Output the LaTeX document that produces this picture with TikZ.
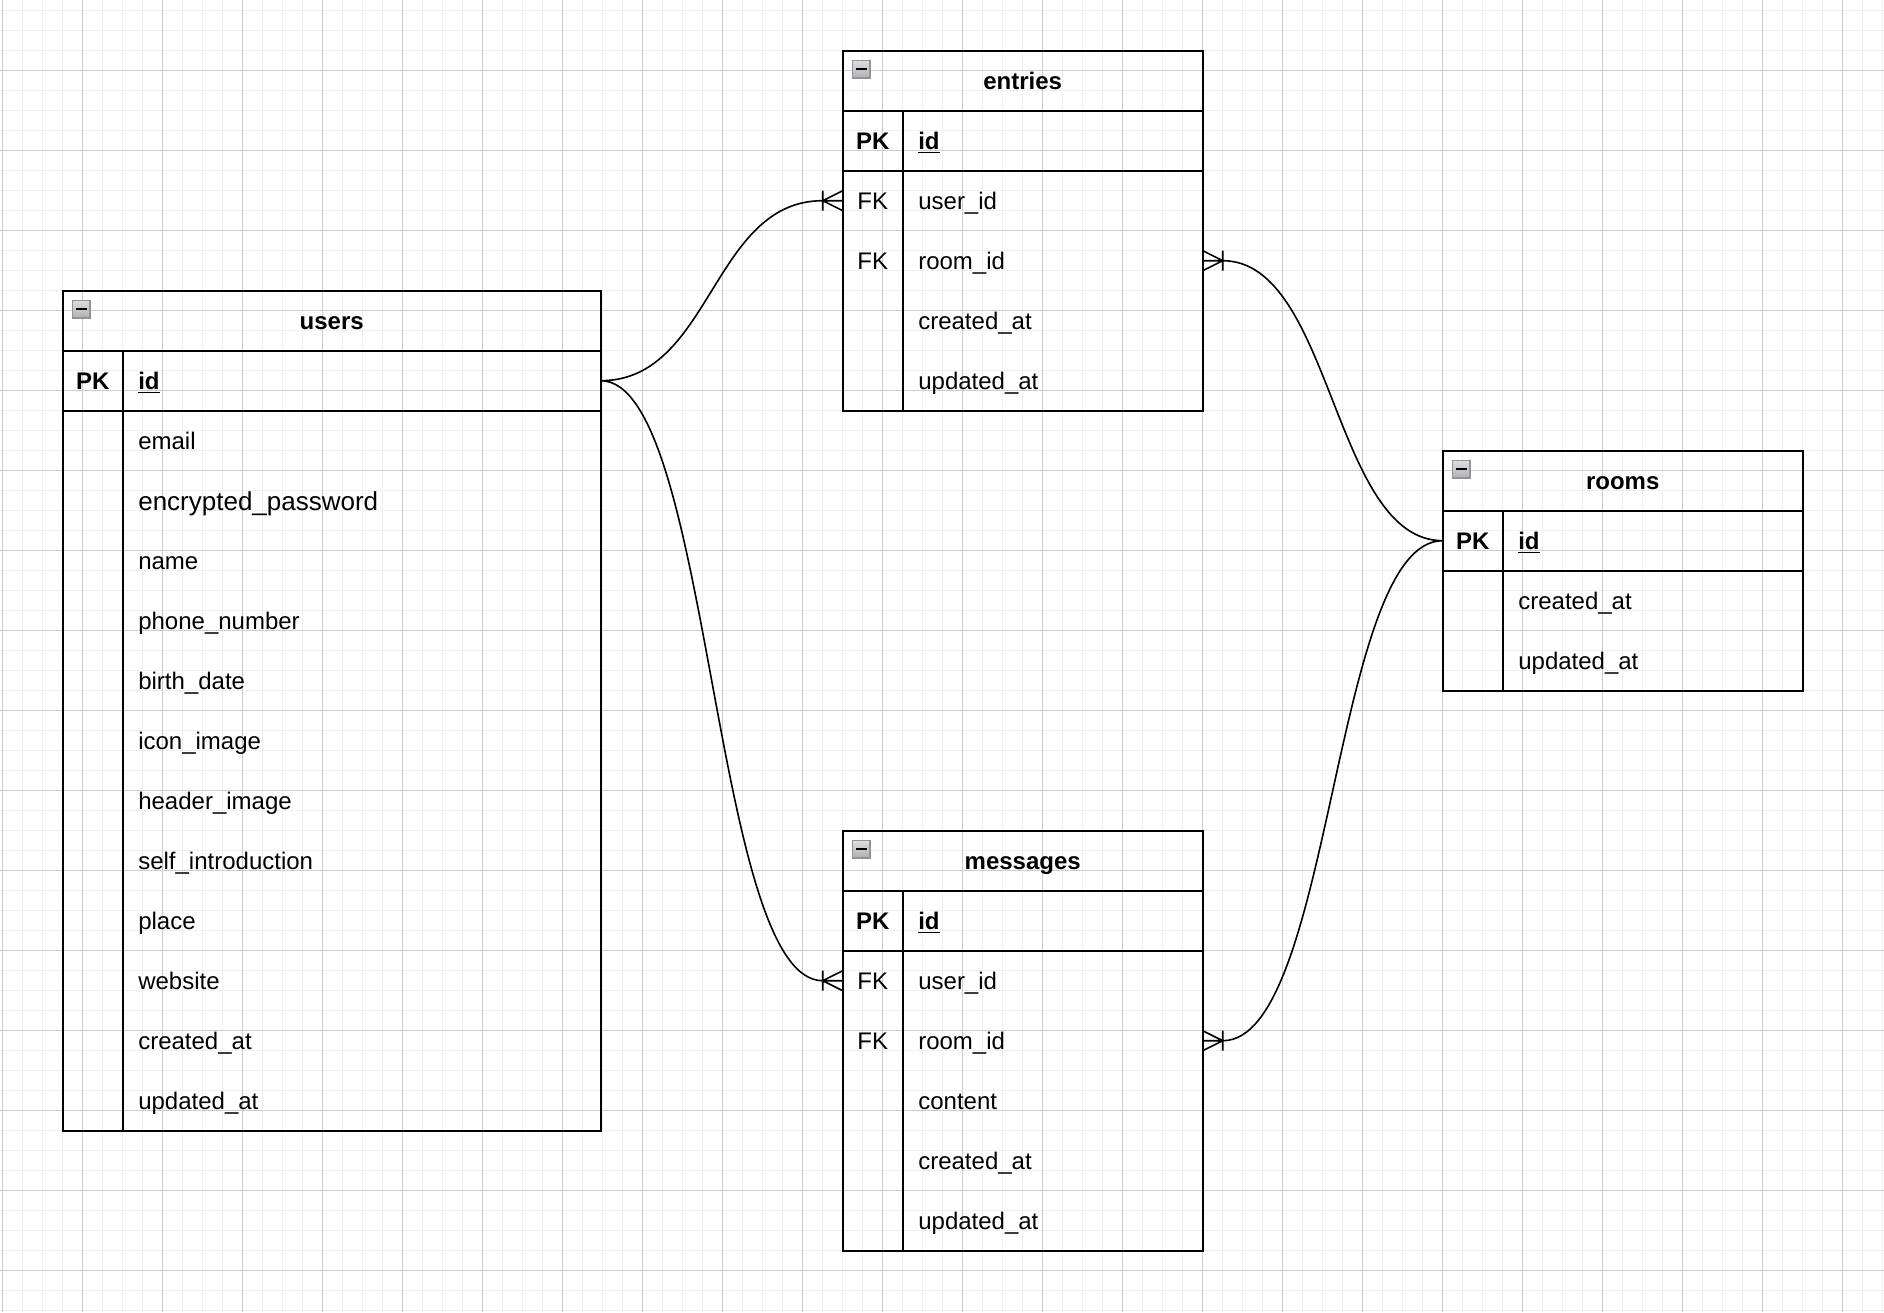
\documentclass[tikz,border=0pt]{standalone}
\usepackage{fontspec}
\setmainfont{Liberation Sans}
\begin{document}
\begin{tikzpicture}[x=1pt, y=-1pt,
	every node/.style={inner sep=0pt, outer sep=0pt, text height=10.6pt, text depth=2pt, font=\fontsize{12}{14.4}\selectfont},
	tabtitle/.style={minimum width=#1, minimum height=30pt, anchor=north west, font=\fontsize{12}{14.4}\selectfont\bfseries},
	keycell/.style={minimum width=30pt, minimum height=30pt},
	fieldcell/.style={anchor=west, minimum height=30pt, inner xsep=7.8pt, text width=#1, align=left},
	fieldcell/.default=134.4pt,
	tabframe/.style={line width=1pt},
	relation/.style={line width=0.8pt},
	minorline/.style={line width=0.75pt, black!6},
	majorline/.style={line width=0.5pt, black!20},
	foldbox/.style={minimum size=8.7pt, text height=0pt, text depth=0pt, draw=gray!85, line width=0.7pt, top color=blue!5!gray!25, bottom color=blue!5!gray!60},
	foldmark/.style={line width=1pt}]
	\fill[white] (-1.35,-5.35) rectangle (940.65,650.65);
	\useasboundingbox (-1.35,-5.35) rectangle (940.65,650.65);
	\foreach \gx in {0,10,...,940} \draw[minorline] (\gx,-5.35) -- (\gx,650.65);
	\foreach \gy in {0,10,...,650} \draw[minorline] (-1.35,\gy) -- (940.65,\gy);
	\foreach \gx in {0,40,...,920} \draw[majorline] (\gx,-5.35) -- (\gx,650.65);
	\foreach \gy in {30,70,...,630} \draw[majorline] (-1.35,\gy) -- (940.65,\gy);

	\node[tabtitle=269pt] (users) at (30,140) {users};
	\node[foldbox] (users-fold) at (39.3,149.3) {};
	\node[keycell, font=\fontsize{12}{14.4}\selectfont\bfseries] (users-pk) at (45,185) {PK};
	\node[fieldcell=223.4pt, font=\fontsize{12}{14.4}\selectfont\bfseries] (users-id) at (60,185) {\underline{id}};
	\node[fieldcell=223.4pt] (users-email) at (60,215) {email};
	\node[fieldcell=223.4pt, font=\fontsize{13}{15.6}\selectfont, text height=12pt] (users-pass) at (60,245) {encrypted\_password};
	\node[fieldcell=223.4pt] (users-name) at (60,275) {name};
	\node[fieldcell=223.4pt] (users-phone) at (60,305) {phone\_number};
	\node[fieldcell=223.4pt] (users-birth) at (60,335) {birth\_date};
	\node[fieldcell=223.4pt] (users-icon) at (60,365) {icon\_image};
	\node[fieldcell=223.4pt] (users-header) at (60,395) {header\_image};
	\node[fieldcell=223.4pt] (users-intro) at (60,425) {self\_introduction};
	\node[fieldcell=223.4pt] (users-place) at (60,455) {place};
	\node[fieldcell=223.4pt] (users-web) at (60,485) {website};
	\node[fieldcell=223.4pt] (users-created) at (60,515) {created\_at};
	\node[fieldcell=223.4pt] (users-updated) at (60,545) {updated\_at};
	\draw[tabframe] (users.north west) rectangle (users-updated.south east)
		(users.south west) -- (users.south east)
		(users-pk.south west) -- (users-id.south east)
		(users-pk.north east) -- (users-pk.north east |- users-updated.south);
	\draw[foldmark] ([xshift=-2.6pt]users-fold.center) -- ([xshift=2.6pt]users-fold.center);

	\node[tabtitle=180pt] (entries) at (420,20) {entries};
	\node[foldbox] (entries-fold) at (429.3,29.3) {};
	\node[keycell, font=\fontsize{12}{14.4}\selectfont\bfseries] (entries-pk) at (435,65) {PK};
	\node[fieldcell, font=\fontsize{12}{14.4}\selectfont\bfseries] (entries-id) at (450,65) {\underline{id}};
	\node[keycell] (entries-fk1) at (435,95) {FK};
	\node[fieldcell] (entries-user) at (450,95) {user\_id};
	\node[keycell] (entries-fk2) at (435,125) {FK};
	\node[fieldcell] (entries-room) at (450,125) {room\_id};
	\node[fieldcell] (entries-created) at (450,155) {created\_at};
	\node[fieldcell] (entries-updated) at (450,185) {updated\_at};
	\draw[tabframe] (entries.north west) rectangle (entries-updated.south east)
		(entries.south west) -- (entries.south east)
		(entries-pk.south west) -- (entries-id.south east)
		(entries-pk.north east) -- (entries-pk.north east |- entries-updated.south);
	\draw[foldmark] ([xshift=-2.6pt]entries-fold.center) -- ([xshift=2.6pt]entries-fold.center);

	\node[tabtitle=180pt] (rooms) at (720,220) {rooms};
	\node[foldbox] (rooms-fold) at (729.3,229.3) {};
	\node[keycell, font=\fontsize{12}{14.4}\selectfont\bfseries] (rooms-pk) at (735,265) {PK};
	\node[fieldcell, font=\fontsize{12}{14.4}\selectfont\bfseries] (rooms-id) at (750,265) {\underline{id}};
	\node[fieldcell] (rooms-created) at (750,295) {created\_at};
	\node[fieldcell] (rooms-updated) at (750,325) {updated\_at};
	\draw[tabframe] (rooms.north west) rectangle (rooms-updated.south east)
		(rooms.south west) -- (rooms.south east)
		(rooms-pk.south west) -- (rooms-id.south east)
		(rooms-pk.north east) -- (rooms-pk.north east |- rooms-updated.south);
	\draw[foldmark] ([xshift=-2.6pt]rooms-fold.center) -- ([xshift=2.6pt]rooms-fold.center);

	\node[tabtitle=180pt] (messages) at (420,410) {messages};
	\node[foldbox] (messages-fold) at (429.3,419.3) {};
	\node[keycell, font=\fontsize{12}{14.4}\selectfont\bfseries] (messages-pk) at (435,455) {PK};
	\node[fieldcell, font=\fontsize{12}{14.4}\selectfont\bfseries] (messages-id) at (450,455) {\underline{id}};
	\node[keycell] (messages-fk1) at (435,485) {FK};
	\node[fieldcell] (messages-user) at (450,485) {user\_id};
	\node[keycell] (messages-fk2) at (435,515) {FK};
	\node[fieldcell] (messages-room) at (450,515) {room\_id};
	\node[fieldcell] (messages-content) at (450,545) {content};
	\node[fieldcell] (messages-created) at (450,575) {created\_at};
	\node[fieldcell] (messages-updated) at (450,605) {updated\_at};
	\draw[tabframe] (messages.north west) rectangle (messages-updated.south east)
		(messages.south west) -- (messages.south east)
		(messages-pk.south west) -- (messages-id.south east)
		(messages-pk.north east) -- (messages-pk.north east |- messages-updated.south);
	\draw[foldmark] ([xshift=-2.6pt]messages-fold.center) -- ([xshift=2.6pt]messages-fold.center);

	\coordinate (entries-in) at ([xshift=-10pt]entries-fk1.west);
	\coordinate (entries-out) at ([xshift=10pt]entries-room.east);
	\coordinate (messages-in) at ([xshift=-10pt]messages-fk1.west);
	\coordinate (messages-out) at ([xshift=10pt]messages-room.east);

	\draw[relation] (users-id.east) .. controls +(55.5,0) and +(-55.5,0) .. (entries-in)
		(users-id.east) .. controls +(55.5,0) and +(-55.5,0) .. (messages-in)
		(rooms-pk.west) .. controls +(-55,0) and +(55,0) .. (entries-out)
		(rooms-pk.west) .. controls +(-55,0) and +(55,0) .. (messages-out);

	\draw[relation] (entries-fk1.west) ++(0,-5) -- (entries-in) -- ++(10,5)
		(entries-in) -- (entries-fk1.west)
		(entries-in) ++(0,-5) -- ++(0,10);
	\draw[relation] (messages-fk1.west) ++(0,-5) -- (messages-in) -- ++(10,5)
		(messages-in) -- (messages-fk1.west)
		(messages-in) ++(0,-5) -- ++(0,10);
	\draw[relation] (entries-room.east) ++(0,-5) -- (entries-out) -- ++(-10,5)
		(entries-out) -- (entries-room.east)
		(entries-out) ++(0,-5) -- ++(0,10);
	\draw[relation] (messages-room.east) ++(0,-5) -- (messages-out) -- ++(-10,5)
		(messages-out) -- (messages-room.east)
		(messages-out) ++(0,-5) -- ++(0,10);
\end{tikzpicture}
\end{document}
